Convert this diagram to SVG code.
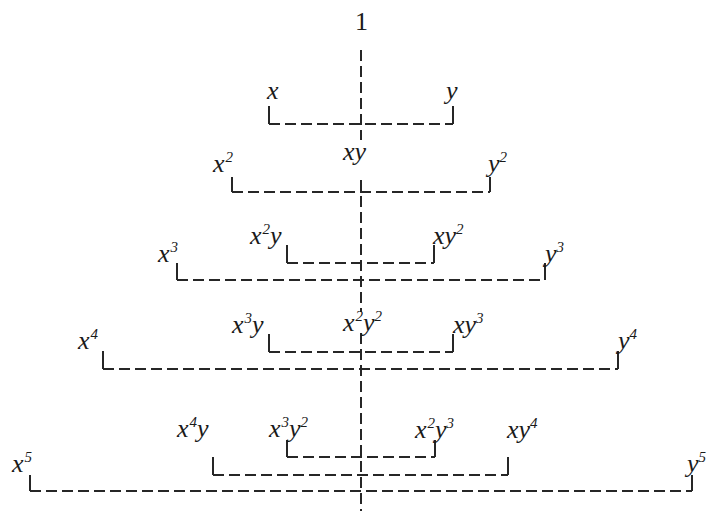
<svg xmlns="http://www.w3.org/2000/svg" width="707" height="511" viewBox="0 0 707 511">
<style>
.t{font-family:"Liberation Serif","Times New Roman",serif;font-style:italic;font-size:26px;fill:#1a1a1a}
.n{font-style:normal}
.s{font-size:15px}
.d{fill:none;stroke:#262626;stroke-width:2;stroke-dasharray:11 5}
.v{fill:none;stroke:#262626;stroke-width:2}
</style>
<rect width="707" height="511" fill="#fff"/>
<g id="connectors">
<path class="d" d="M361 50V140M361 180V312M361 333V511"/>
<path class="d" d="M269 124H453"/><path class="v" d="M269 106V124M453 106V124"/>
<path class="d" d="M232 192H490"/><path class="v" d="M232 177V192M490 177V192"/>
<path class="d" d="M287 263H434"/><path class="v" d="M287 245V263M434 245V263"/>
<path class="d" d="M177 280H545"/><path class="v" d="M177 263V280M545 263V280"/>
<path class="d" d="M269 352H453"/><path class="v" d="M269 334V352M453 334V352"/>
<path class="d" d="M103 369H618"/><path class="v" d="M103 351V369M618 351V369"/>
<path class="d" d="M287 457H435"/><path class="v" d="M287 440V457M435 440V457"/>
<path class="d" d="M213 475H508"/><path class="v" d="M213 457V475M508 457V475"/>
<path class="d" d="M30 491H692"/><path class="v" d="M30 475V491M692 475V491"/>
</g>
<g id="n1"><text class="t n" x="355" y="30">1</text></g>
<g id="nx"><text class="t" x="267" y="99">x</text></g>
<g id="ny"><text class="t" x="446" y="99">y</text></g>
<g id="nx2"><text class="t" x="213" y="172">x<tspan class="s" dy="-10" dx="1">2</tspan></text></g>
<g id="nxy"><text class="t" x="343" y="160">xy</text></g>
<g id="ny2"><text class="t" x="488" y="172">y<tspan class="s" dy="-10">2</tspan></text></g>
<g id="nx2y"><text class="t" x="250" y="244">x<tspan class="s" dy="-10" dx="1">2</tspan><tspan dy="10">y</tspan></text></g>
<g id="nxy2"><text class="t" x="433" y="244">xy<tspan class="s" dy="-10">2</tspan></text></g>
<g id="nx3"><text class="t" x="158" y="262">x<tspan class="s" dy="-10" dx="1">3</tspan></text></g>
<g id="ny3"><text class="t" x="545" y="262">y<tspan class="s" dy="-10">3</tspan></text></g>
<g id="nx3y"><text class="t" x="232" y="333">x<tspan class="s" dy="-10" dx="1">3</tspan><tspan dy="10">y</tspan></text></g>
<g id="nx2y2"><text class="t" x="343" y="331">x<tspan class="s" dy="-10" dx="1">2</tspan><tspan dy="10">y</tspan><tspan class="s" dy="-10">2</tspan></text></g>
<g id="nxy3"><text class="t" x="453" y="333">xy<tspan class="s" dy="-10">3</tspan></text></g>
<g id="nx4"><text class="t" x="78" y="349">x<tspan class="s" dy="-10" dx="1">4</tspan></text></g>
<g id="ny4"><text class="t" x="618" y="349">y<tspan class="s" dy="-10">4</tspan></text></g>
<g id="nx4y"><text class="t" x="177" y="437">x<tspan class="s" dy="-10" dx="1">4</tspan><tspan dy="10">y</tspan></text></g>
<g id="nx3y2"><text class="t" x="269" y="437">x<tspan class="s" dy="-10" dx="1">3</tspan><tspan dy="10">y</tspan><tspan class="s" dy="-10">2</tspan></text></g>
<g id="nx2y3"><text class="t" x="415" y="438">x<tspan class="s" dy="-10" dx="1">2</tspan><tspan dy="10">y</tspan><tspan class="s" dy="-10">3</tspan></text></g>
<g id="nxy4"><text class="t" x="507" y="438">xy<tspan class="s" dy="-10">4</tspan></text></g>
<g id="nx5"><text class="t" x="12" y="472">x<tspan class="s" dy="-10" dx="1">5</tspan></text></g>
<g id="ny5"><text class="t" x="687" y="472">y<tspan class="s" dy="-10">5</tspan></text></g>
</svg>
